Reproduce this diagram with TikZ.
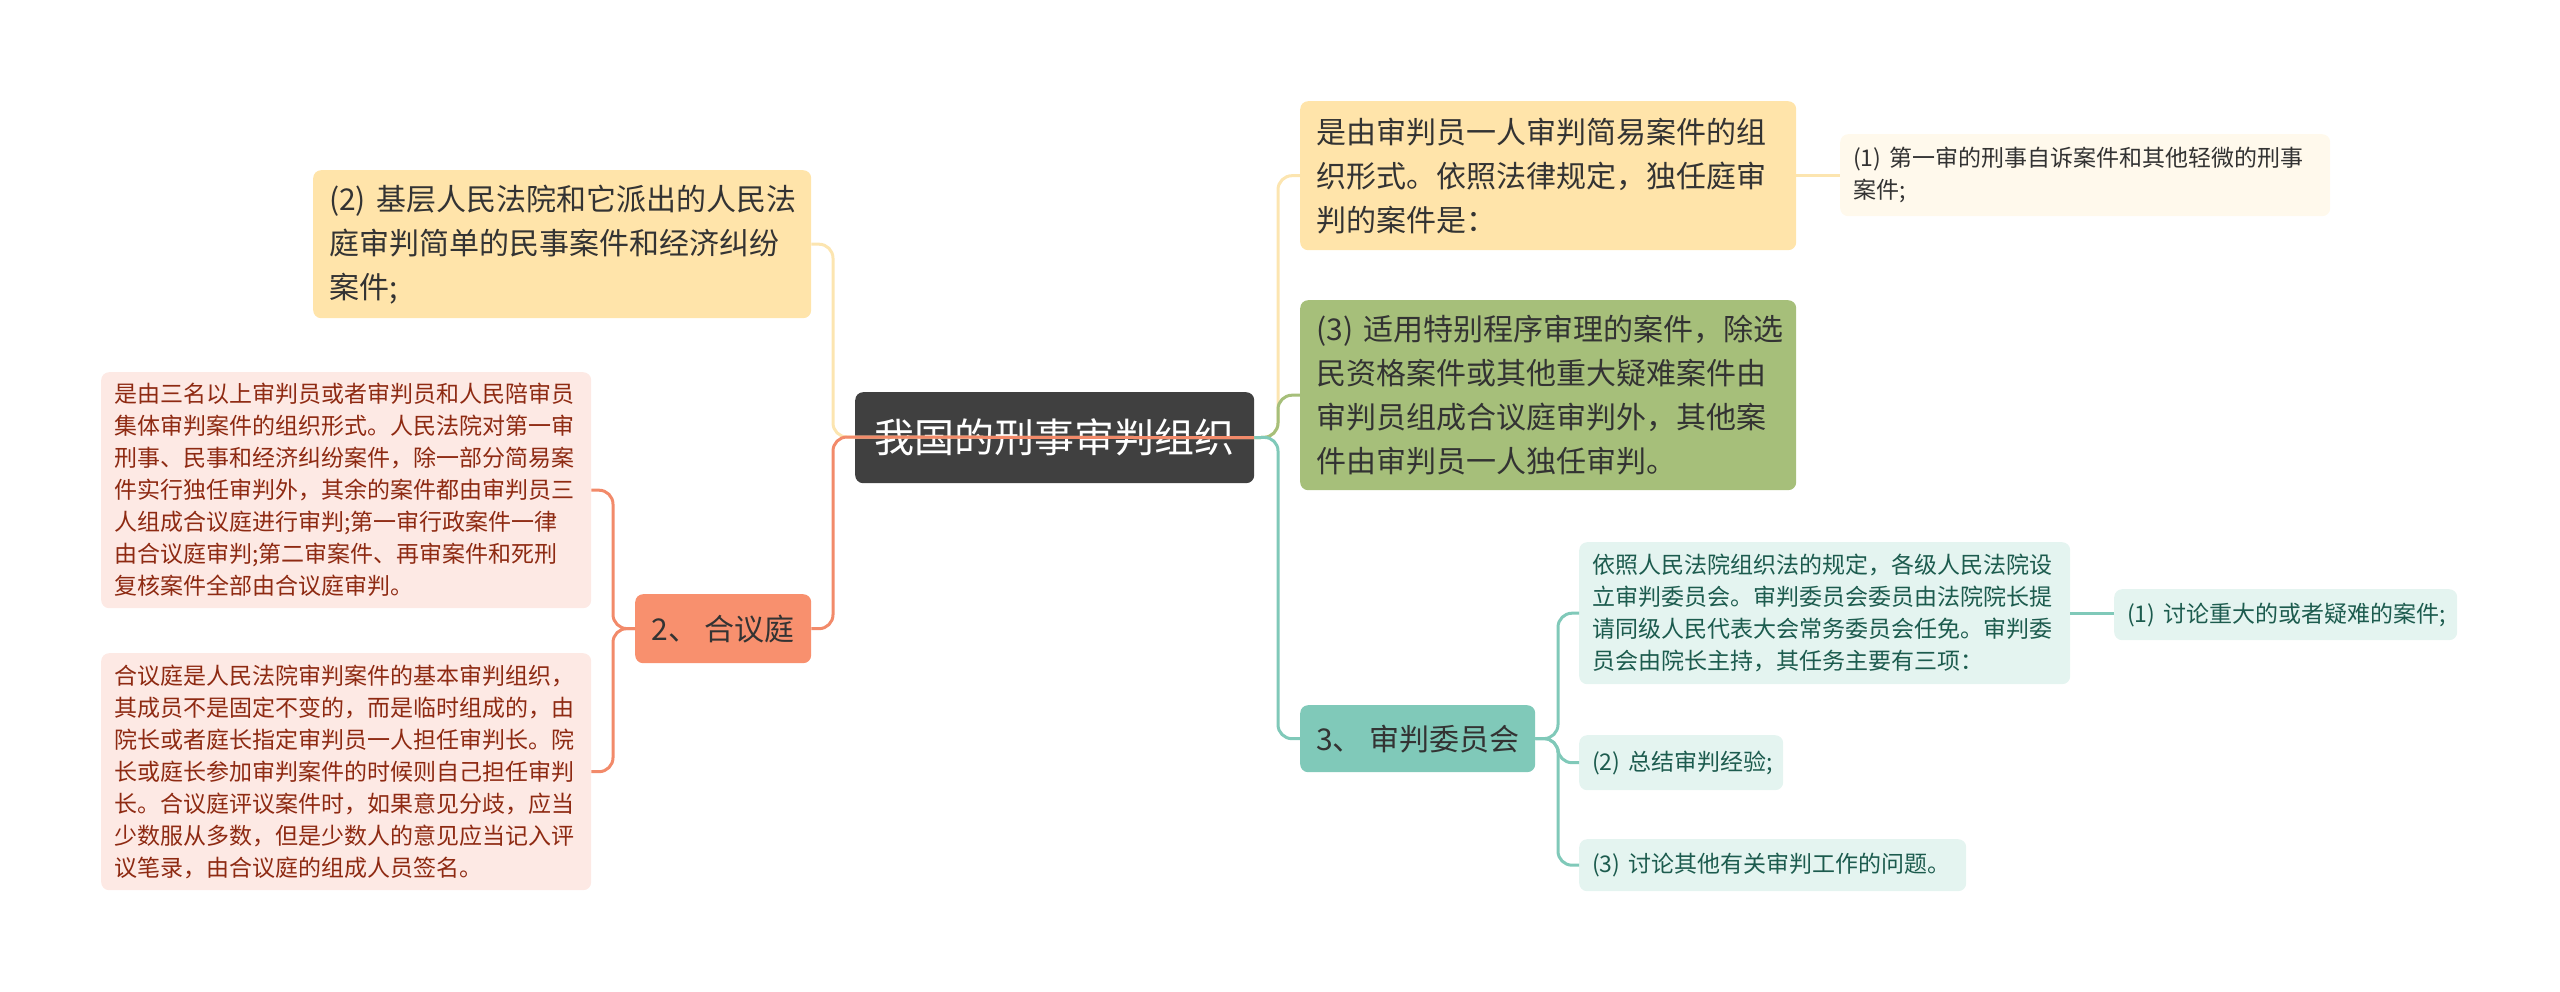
\documentclass[tikz,border=0pt]{standalone}
\usepackage{fontspec}
\setmainfont{Noto Sans CJK SC}
\definecolor{rootc}{HTML}{404040}
\definecolor{ylfill}{HTML}{FFE4AA}
\definecolor{yline}{HTML}{FCE5B0}
\definecolor{ylight}{HTML}{FFF9EC}
\definecolor{gfill}{HTML}{A6BF7A}
\definecolor{tfill}{HTML}{80C9B9}
\definecolor{tlight}{HTML}{E4F4F0}
\definecolor{ttext}{HTML}{1C5B4E}
\definecolor{ofill}{HTML}{F8906E}
\definecolor{oline}{HTML}{F28A6A}
\definecolor{olight}{HTML}{FDE9E4}
\definecolor{otext}{HTML}{8E2A12}
\definecolor{dtext}{HTML}{333333}
\tikzset{
  box/.style={rounded corners=8pt, anchor=north west, inner ysep=0pt, align=left},
  big/.style={font=\fontsize{30pt}{44pt}\selectfont, text=dtext},
  small/.style={font=\fontsize{23pt}{32pt}\selectfont},
  conn/.style={line width=3pt, rounded corners=14pt},
}
\begin{document}
\begin{tikzpicture}[x=1pt,y=-1pt]
\useasboundingbox (0,0) rectangle (2560,992);
% root
\node[fill=rootc, text=white, rounded corners=8pt, anchor=north west, minimum width=399pt, minimum height=91pt, inner sep=0pt, font=\fontsize{40pt}{48pt}\selectfont] (root) at (855,392) {我国的刑事审判组织};
% left side
\node[box, big, fill=ylfill, inner xsep=16pt, text width=466pt, minimum height=148pt] (A) at (313,170) {(2) 基层人民法院和它派出的人民法\\庭审判简单的民事案件和经济纠纷\\案件;};
\node[fill=ofill, text=dtext, rounded corners=8pt, anchor=north west, minimum width=176pt, minimum height=69pt, inner sep=0pt, font=\fontsize{30pt}{44pt}\selectfont] (D) at (635,594) {2、 合议庭};
\node[box, small, fill=olight, text=otext, inner xsep=13pt, text width=464pt, minimum height=236pt] (B) at (101,372) {是由三名以上审判员或者审判员和人民陪审员\\集体审判案件的组织形式。人民法院对第一审\\刑事、民事和经济纠纷案件，除一部分简易案\\件实行独任审判外，其余的案件都由审判员三\\人组成合议庭进行审判;第一审行政案件一律\\由合议庭审判;第二审案件、再审案件和死刑\\复核案件全部由合议庭审判。};
\node[box, small, fill=olight, text=otext, inner xsep=13pt, text width=464pt, minimum height=237pt] (C) at (101,653) {合议庭是人民法院审判案件的基本审判组织，\\其成员不是固定不变的，而是临时组成的，由\\院长或者庭长指定审判员一人担任审判长。院\\长或庭长参加审判案件的时候则自己担任审判\\长。合议庭评议案件时，如果意见分歧，应当\\少数服从多数，但是少数人的意见应当记入评\\议笔录，由合议庭的组成人员签名。};
% right side
\node[box, big, fill=ylfill, inner xsep=16pt, text width=464pt, minimum height=149pt] (E) at (1300,101) {是由审判员一人审判简易案件的组\\织形式。依照法律规定，独任庭审\\判的案件是：};
\node[box, small, fill=ylight, text=dtext, inner xsep=13pt, text width=464pt, minimum height=82pt] (F) at (1840,134) {(1) 第一审的刑事自诉案件和其他轻微的刑事\\案件;};
\node[box, big, fill=gfill, inner xsep=16pt, text width=464pt, minimum height=190pt] (G) at (1300,300) {(3) 适用特别程序审理的案件，除选\\民资格案件或其他重大疑难案件由\\审判员组成合议庭审判外，其他案\\件由审判员一人独任审判。};
\node[fill=tfill, text=dtext, rounded corners=8pt, anchor=north west, minimum width=235pt, minimum height=67pt, inner sep=0pt, font=\fontsize{30pt}{44pt}\selectfont] (H) at (1300,705) {3、 审判委员会};
\node[box, small, fill=tlight, text=ttext, inner xsep=13pt, text width=465pt, minimum height=142pt] (I) at (1579,542) {依照人民法院组织法的规定，各级人民法院设\\立审判委员会。审判委员会委员由法院院长提\\请同级人民代表大会常务委员会任免。审判委\\员会由院长主持，其任务主要有三项：};
\node[box, small, fill=tlight, text=ttext, inner xsep=13pt, text width=317pt, minimum height=51pt] (J) at (2114,589) {\mbox{(1) 讨论重大的或者疑难的案件;}};
\node[box, small, fill=tlight, text=ttext, inner xsep=13pt, text width=178pt, minimum height=55pt] (K) at (1579,735) {\mbox{(2) 总结审判经验;}};
\node[box, small, fill=tlight, text=ttext, inner xsep=13pt, text width=361pt, minimum height=52pt] (L) at (1579,839) {\mbox{(3) 讨论其他有关审判工作的问题。}};
% connectors left
\coordinate (lj) at (833,437);
\coordinate (rj) at (1278,437);
\draw[conn, yline] (root.east) -- (lj) |- (A.east);
\draw[conn, oline] (root.east) -- (lj) |- (D.east);
\draw[conn, oline] (D.west) -- (613,628.5) |- (B.east);
\draw[conn, oline] (D.west) -- (613,628.5) |- (C.east);
% connectors right
\draw[conn, yline] (root.east) -- (rj) |- (E.west);
\draw[conn, gfill] (root.east) -- (rj) |- (G.west);
\draw[conn, tfill] (root.east) -- (rj) |- (H.west);
\draw[conn, yline] (E.east) -- (F.west |- E.east);
\draw[conn, tfill] (H.east) -- (1558,738.5) |- (I.west);
\draw[conn, tfill] (H.east) -- (1558,738.5) |- (K.west);
\draw[conn, tfill] (H.east) -- (1558,738.5) |- (L.west);
\draw[conn, tfill] (I.east) -- (J.west |- I.east);
\end{tikzpicture}
\end{document}
